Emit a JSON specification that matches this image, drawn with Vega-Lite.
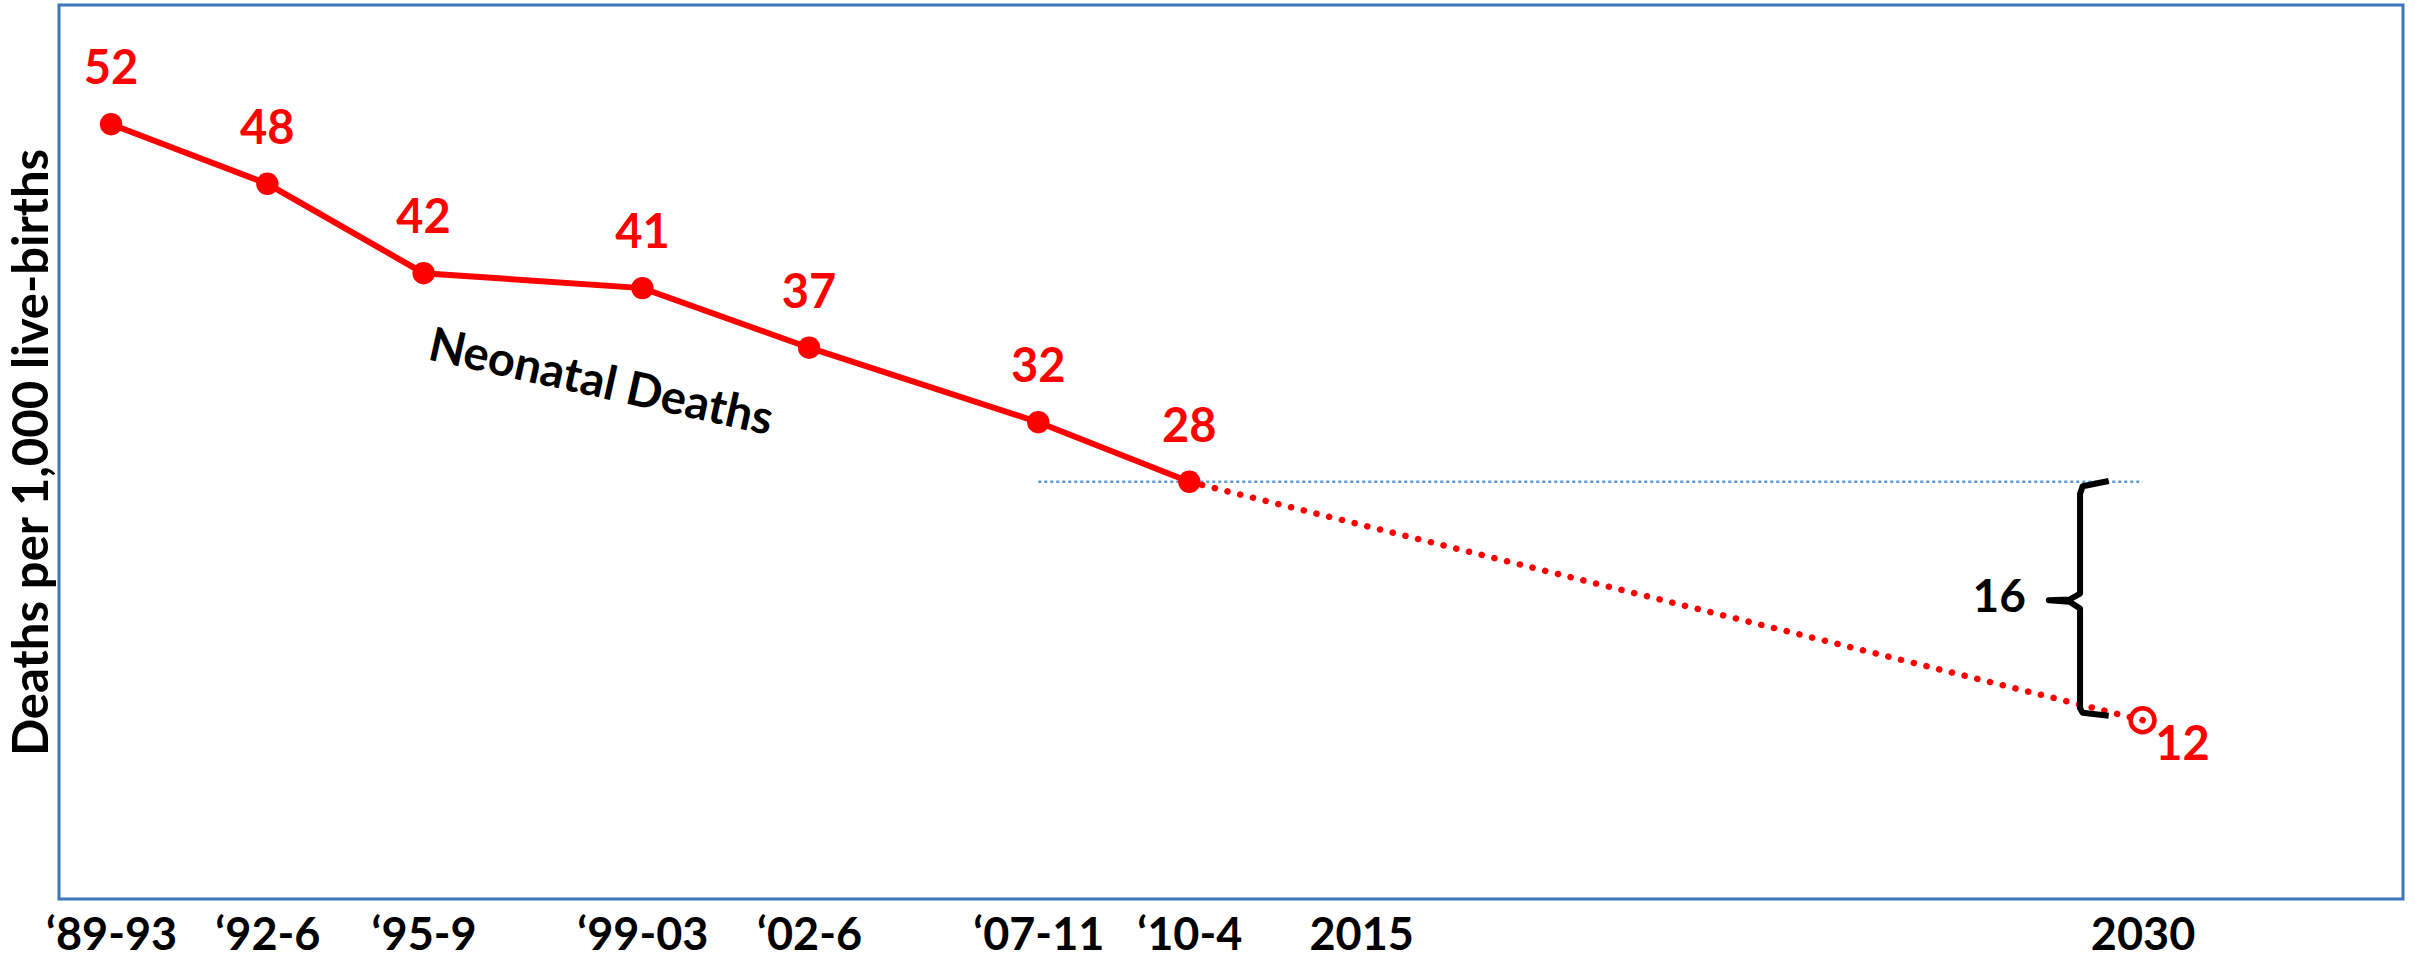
{
  "$schema": "https://vega.github.io/schema/vega-lite/v6.json",
  "width": 2344,
  "height": 894,
  "autosize": "none",
  "padding": {"left": 59, "top": 5, "right": 12, "bottom": 70},
  "background": "white",
  "config": {"view": {"stroke": "#3A76B8", "strokeWidth": 3}, "font": "Lato"},
  "datasets": {
    "rates": [
      {"period": "‘89-93", "t": 1991, "value": 52, "kind": "observed"},
      {"period": "‘92-6", "t": 1994, "value": 48, "kind": "observed"},
      {"period": "‘95-9", "t": 1997, "value": 42, "kind": "observed"},
      {"period": "‘99-03", "t": 2001.2, "value": 41, "kind": "observed"},
      {"period": "‘02-6", "t": 2004.4, "value": 37, "kind": "observed"},
      {"period": "‘07-11", "t": 2008.8, "value": 32, "kind": "observed"},
      {"period": "‘10-4", "t": 2011.7, "value": 28, "kind": "observed"},
      {"period": "2030", "t": 2030, "value": 12, "kind": "target"}
    ],
    "projection": [
      {"t": 2011.7, "value": 28},
      {"t": 2030, "value": 12}
    ],
    "reference": [
      {"t": 2008.8, "t_end": 2030, "value": 28}
    ],
    "brace": [
      {"i": 1, "t": 2029.35, "value": 28.05},
      {"i": 2, "t": 2028.85, "value": 27.7},
      {"i": 3, "t": 2028.8, "value": 27.2},
      {"i": 4, "t": 2028.8, "value": 20.5},
      {"i": 5, "t": 2028.6, "value": 20.1},
      {"i": 6, "t": 2028.2, "value": 20.05},
      {"i": 7, "t": 2028.6, "value": 19.95},
      {"i": 8, "t": 2028.8, "value": 19.5},
      {"i": 9, "t": 2028.8, "value": 12.8},
      {"i": 10, "t": 2028.85, "value": 12.5},
      {"i": 11, "t": 2029.35, "value": 12.3}
    ],
    "gap": [
      {"t": 2027.25, "value": 20.2, "label": "16"}
    ],
    "series": [
      {"t": 2000.4, "value": 34.6, "label": "Neonatal Deaths"}
    ]
  },
  "encoding": {
    "x": {
      "field": "t",
      "type": "quantitative",
      "title": null,
      "scale": {"domain": [1990, 2035], "nice": false, "zero": false},
      "axis": {
        "values": [1991, 1994, 1997, 2001.2, 2004.4, 2008.8, 2011.7, 2015, 2030],
        "labelExpr": "datum.value < 1992 ? '‘89-93' : datum.value < 1995 ? '‘92-6' : datum.value < 1999 ? '‘95-9' : datum.value < 2003 ? '‘99-03' : datum.value < 2006 ? '‘02-6' : datum.value < 2010 ? '‘07-11' : datum.value < 2013 ? '‘10-4' : datum.value < 2020 ? '2015' : '2030'",
        "grid": false,
        "ticks": false,
        "domain": false,
        "labelFont": "Lato",
        "labelFontWeight": "bold",
        "labelFontSize": 45,
        "labelColor": "black",
        "labelPadding": 14,
        "labelOverlap": false,
        "labelFlush": false,
        "labelBound": false
      }
    },
    "y": {
      "field": "value",
      "type": "quantitative",
      "title": "Deaths per 1,000 live-births",
      "scale": {"domain": [0, 60], "nice": false, "zero": false},
      "axis": {
        "labels": false,
        "ticks": false,
        "grid": false,
        "domain": false,
        "titleFont": "Lato",
        "titleFontSize": 49,
        "titleFontWeight": "bold",
        "titleColor": "black",
        "titlePadding": 2
      }
    }
  },
  "layer": [
    {
      "data": {"name": "reference"},
      "mark": {"type": "rule", "color": "#5B9BD5", "strokeWidth": 2.5, "strokeDash": [3, 3]},
      "encoding": {"x2": {"field": "t_end"}}
    },
    {
      "data": {"name": "rates"},
      "transform": [{"filter": "datum.kind === 'observed'"}],
      "mark": {"type": "line", "color": "#FF0000", "strokeWidth": 6}
    },
    {
      "data": {"name": "projection"},
      "mark": {"type": "line", "color": "#FF0000", "strokeWidth": 6.5, "strokeDash": [0.1, 13], "strokeCap": "round"}
    },
    {
      "data": {"name": "rates"},
      "transform": [{"filter": "datum.kind === 'observed'"}],
      "mark": {"type": "point", "filled": true, "size": 500, "color": "#FF0000", "opacity": 1}
    },
    {
      "data": {"name": "rates"},
      "transform": [{"filter": "datum.kind === 'target'"}],
      "mark": {"type": "point", "filled": false, "size": 570, "strokeWidth": 4.5, "color": "#FF0000", "opacity": 1}
    },
    {
      "data": {"name": "rates"},
      "transform": [{"filter": "datum.kind === 'observed'"}],
      "mark": {"type": "text", "dy": -54, "fontSize": 47, "fontWeight": "bold", "color": "#FF0000", "font": "Lato"},
      "encoding": {"text": {"field": "value", "type": "quantitative"}}
    },
    {
      "data": {"name": "rates"},
      "transform": [{"filter": "datum.kind === 'target'"}],
      "mark": {"type": "text", "dx": 40, "dy": 26, "fontSize": 47, "fontWeight": "bold", "color": "#FF0000", "font": "Lato"},
      "encoding": {"text": {"field": "value", "type": "quantitative"}}
    },
    {
      "data": {"name": "brace"},
      "mark": {"type": "line", "color": "black", "strokeWidth": 6, "strokeJoin": "round", "strokeCap": "butt"},
      "encoding": {"order": {"field": "i", "type": "quantitative"}}
    },
    {
      "data": {"name": "gap"},
      "mark": {"type": "text", "fontSize": 46, "fontWeight": "bold", "color": "black", "font": "Lato"},
      "encoding": {"text": {"field": "label", "type": "nominal"}}
    },
    {
      "data": {"name": "series"},
      "mark": {"type": "text", "fontSize": 47, "fontWeight": "bold", "color": "black", "font": "Lato", "angle": 12.5},
      "encoding": {"text": {"field": "label", "type": "nominal"}}
    }
  ]
}
